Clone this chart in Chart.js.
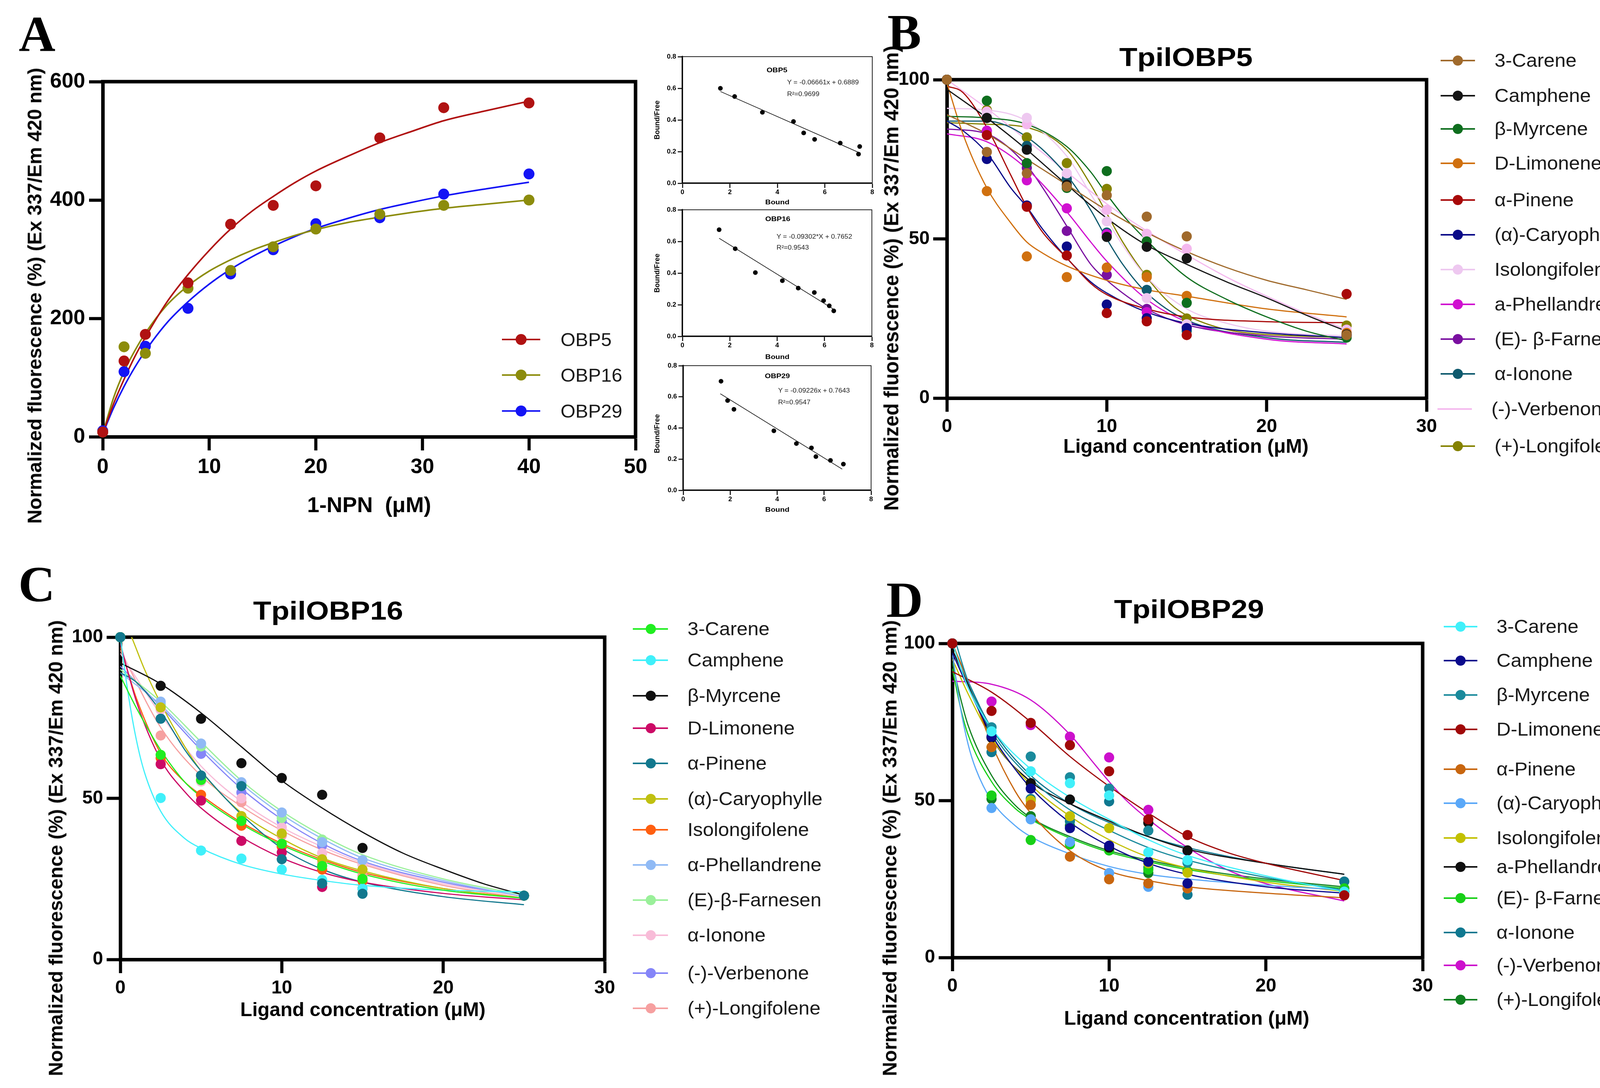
<!DOCTYPE html>
<html>
<head>
<meta charset="utf-8">
<script src="https://cdn.jsdelivr.net/npm/chart.js@4.4.1/dist/chart.umd.min.js"></script>
<style>
html,body{margin:0;padding:0;background:#fff;}
body{width:4251px;height:2785px;position:relative;overflow:hidden;font-family:"Liberation Sans",Arial,Helvetica,sans-serif;}
.box{position:absolute;}
.t{position:absolute;white-space:pre;line-height:1;color:#000;}
.sw{position:absolute;}
</style>
</head>
<body>
<script>
// ================= DATA =================
// Panel A: 1-NPN binding curves
const NPN_UM = [0, 2, 4, 8, 12, 16, 20, 26, 32, 40];
const OBP5_FL = [8, 128, 173, 260, 359, 391, 424, 505, 556, 564];
const OBP16_FL = [8, 152, 141, 251, 281, 321, 351, 376, 391, 400];
const OBP29_FL = [10, 110, 153, 217, 275, 316, 360, 370, 410, 444];
const NPN_FIT_UM = [0, 1, 2, 3, 4, 6, 8, 10, 12, 14, 16, 18, 20, 23, 26, 29, 32, 36, 40];
const OBP5_FIT = [5, 55, 97, 135, 168, 227, 274, 315, 351, 381, 406, 429, 449, 474, 497, 516, 534, 551, 567];
const OBP16_FIT = [5, 65, 110, 145, 175, 222, 255, 280, 299, 315, 328, 340, 350, 362, 371, 379, 386, 393, 400];
const OBP29_FIT = [5, 48, 85, 117, 145, 192, 228, 258, 283, 304, 322, 338, 352, 369, 384, 396, 407, 419, 430];
const A_NAMES = ['OBP5', 'OBP16', 'OBP29'];

// Panel A insets: Scatchard plots
const SC5_BOUND = [1.6, 2.2, 3.37, 4.68, 5.11, 5.57, 6.65, 7.42, 7.47];
const SC5_BF = [0.60, 0.548, 0.448, 0.39, 0.318, 0.277, 0.254, 0.184, 0.232];
const SC5_LINE = [[1.6, 0.58], [7.42, 0.195]];
const SC16_BOUND = [1.55, 2.23, 3.08, 4.22, 4.89, 5.57, 5.96, 6.2, 6.39];
const SC16_BF = [0.674, 0.554, 0.403, 0.352, 0.305, 0.277, 0.226, 0.193, 0.161];
const SC16_LINE = [[1.55, 0.62], [6.4, 0.17]];
const SC29_BOUND = [1.61, 1.89, 2.16, 3.86, 4.82, 5.46, 5.65, 6.27, 6.82];
const SC29_BF = [0.70, 0.576, 0.52, 0.382, 0.30, 0.272, 0.216, 0.192, 0.168];
const SC29_LINE = [[1.58, 0.62], [6.77, 0.136]];
const SC_TITLES = ['OBP5', 'OBP16', 'OBP29'];
const SC_EQS = ['Y = -0.06661x + 0.6889', 'Y = -0.09302*X + 0.7652', 'Y = -0.09226x + 0.7643'];
const SC_R2 = ['R²=0.9699', 'R²=0.9543', 'R²=0.9547'];

// Competitive binding: ligand concentrations (µM)
const LIGAND_UM = [0, 2.5, 5, 7.5, 10, 12.5, 15, 25];

// Panel B: TpilOBP5
const B_NAMES = ['3-Carene', 'Camphene', 'β-Myrcene', 'D-Limonene', 'α-Pinene', '(α)-Caryophyllene', 'Isolongifolene', 'a-Phellandrene', '(E)- β-Farnesene', 'α-Ionone', '(-)-Verbenone', '(+)-Longifolene'];
const B_PTS_CARENE = [100, 77.3, 70.6, 66.4, 63.7, 57, 50.8, 19.8];
const B_PTS_CAMPHENE = [100, 88, 78, 67, 50.6, 47.5, 43.9, 20];
const B_PTS_MYRCENE = [100, 93.4, 73.8, 66, 71.3, 49.2, 29.9, 19];
const B_PTS_LIMONENE = [100, 65, 44.5, 38, 41, 38, 32.1, 20.5];
const B_PTS_PINENE = [100, 82.6, 60.1, 44.8, 26.7, 24.1, 19.8, 32.7];
const B_PTS_CARYOPH = [100, 75.1, 60.5, 47.6, 29.4, 25.1, 22, 19.5];
const B_PTS_ISOLONG = [100, 89, 88, 70.6, 55.5, 31.4, 23.2, 21];
const B_PTS_PHELL = [100, 84, 68.4, 59.6, 51.5, 27, 22.5, 20];
const B_PTS_FARN = [100, 83.9, 72.3, 52.5, 38.7, 28, 22.5, 19.5];
const B_PTS_IONONE = [100, 88, 79.2, 68.8, 52, 34, 21.1, 20];
const B_PTS_VERB = [100, 90, 86, 70, 59.1, 51.6, 46.9, 21.5];
const B_PTS_LONGI = [100, 90.5, 81.9, 73.8, 65.7, 38.7, 25, 22.8];
const B_FIT_CARENE = [[0,89],[2.5,83],[5,75],[7.5,67],[10,59],[12.5,52],[15,46],[17.5,41],[20,37],[22.5,34],[25,31]];
const B_FIT_CAMPHENE = [[0,97],[2.5,88],[5,78],[7.5,67],[10,56.5],[12.5,48],[15,42],[17.5,36.5],[20,31.5],[22.5,26],[25,21]];
const B_FIT_MYRCENE = [[0,88.5],[2.5,88],[5,86],[7.5,79],[9,71],[10,64],[11,57.5],[12.5,49.5],[15,38],[17.5,31],[20,25.5],[22.5,21],[25,18]];
const B_FIT_LIMONENE = [[0,99],[1,83],[2.5,66],[4,55],[5,49],[6,45.5],[7.5,41.5],[10,37],[12.5,34],[15,32],[20,28],[25,25.5]];
const B_FIT_PINENE = [[0,98],[1,96],[2.5,85],[4,70],[5,60],[6,52],[7.5,44],[9,36],[10,32.5],[12.5,28],[15,25.5],[20,24],[25,23.7]];
const B_FIT_CARYOPH = [[0,87],[1,84],[2.5,77],[4,66],[5,60],[6,53],[7.5,44],[9,36.5],[10,33],[12.5,27],[15,23.5],[20,20.5],[25,19]];
const B_FIT_ISOLONG = [[0,91],[2.5,90.5],[5,87],[7.5,76],[9,64],[10,56],[11,48],[12.5,38],[15,28],[17.5,23.5],[20,21],[25,19.5]];
const B_FIT_PHELL = [[0,83],[2.5,80.5],[5,72],[7.5,58.5],[9,49],[10,43],[12.5,31],[15,24],[20,18.5],[25,17]];
const B_FIT_FARN = [[0,84.5],[2.5,83],[5,73],[6,66],[7.5,54],[9,42],[10,37],[12.5,28],[15,23],[20,19.5],[25,18.5]];
const B_FIT_IONONE = [[0,87],[2.5,87],[5,82],[7.5,70],[9,59],[10,50],[11,42],[12.5,33],[15,24.5],[20,19],[25,17.5]];
const B_FIT_VERB = [[0,100],[2.5,91],[5,81],[7.5,71],[10,61],[12.5,52.5],[15,45],[17.5,38],[20,32],[22.5,26.5],[25,21.5]];
const B_FIT_LONGI = [[0,86.5],[2.5,86],[5,85],[7.5,78],[9,67],[10,58],[11,49],[12.5,38],[14,29.5],[15,26],[17.5,21.5],[20,20],[25,19]];

// Panel C: TpilOBP16
const C_NAMES = ['3-Carene', 'Camphene', 'β-Myrcene', 'D-Limonene', 'α-Pinene', '(α)-Caryophylle', 'Isolongifolene', 'α-Phellandrene', '(E)-β-Farnesen', 'α-Ionone', '(-)-Verbenone', '(+)-Longifolene'];
const C_PTS_CARENE = [100, 63.5, 55.7, 43, 35.9, 29, 25, 19.8];
const C_PTS_CAMPHENE = [100, 50.1, 33.8, 31.3, 27.9, 24.7, 22, 19.8];
const C_PTS_MYRCENE = [100, 84.9, 74.7, 60.9, 56.3, 51.1, 34.6, 19.8];
const C_PTS_LIMONENE = [100, 60.6, 49.3, 36.8, 33.2, 22.5, 22, 19.8];
const C_PTS_PINENE = [100, 74.7, 57.1, 53.8, 31.1, 23.6, 20.4, 19.8];
const C_PTS_CARYOPH = [100, 78.2, 57, 44.5, 39.1, 31.1, 27.9, 19.8];
const C_PTS_ISOLONG = [100, 62.5, 51.1, 41.5, 35, 27.9, 24.3, 19.8];
const C_PTS_PHELL = [100, 80, 67, 55, 45.6, 36.4, 30.8, 19.8];
const C_PTS_FARN = [100, 79.3, 66.1, 54.7, 43.9, 37.2, 30.8, 19.8];
const C_PTS_IONONE = [100, 77.5, 55.2, 50, 41, 33, 29.5, 19.8];
const C_PTS_VERB = [100, 79, 63.8, 51.8, 42.9, 35.4, 29.5, 19.8];
const C_PTS_LONGI = [100, 69.5, 55.5, 48.8, 38.5, 30, 26, 19.8];
const C_FIT_CARENE = [[0,88],[1,78],[2.5,65],[4,55],[5,50.5],[7.5,42],[10,35.5],[12.5,30.5],[15,26.5],[20,21.5],[25,19]];
const C_FIT_CAMPHENE = [[0,100],[0.5,82],[1,68],[1.5,58],[2.5,46],[4,37.5],[5,34.5],[7.5,29.5],[10,26.5],[12.5,24.5],[15,23],[20,21.5],[25,21]];
const C_FIT_MYRCENE = [[0,92],[2.5,85.5],[5,76.5],[7.5,66],[10,55.5],[12.5,47],[15,39.5],[17.5,33],[20,28],[22.5,23.5],[25,20]];
const C_FIT_LIMONENE = [[0,98],[1,80],[2.5,62],[4,52],[5,47],[7.5,38],[10,31.5],[12.5,27],[15,24],[20,20.5],[25,18.5]];
const C_FIT_PINENE = [[0,89],[1,86],[2.5,77],[4,65],[5,58.5],[7.5,45],[10,34.5],[12.5,28],[15,24],[20,19.5],[25,17]];
const C_FIT_CARYOPH = [[0,108],[0.7,100],[1.5,90],[2.5,79.5],[4,66],[5,58.5],[7.5,45.5],[10,37.5],[12.5,31.5],[15,27.5],[20,22],[25,19]];
const C_FIT_ISOLONG = [[0,97],[1,81],[2.5,64],[4,55],[5,51],[7.5,42.5],[10,36],[12.5,31],[15,27],[20,22],[25,19]];
const C_FIT_PHELL = [[0,89],[2.5,79],[5,66],[7.5,54.5],[10,45],[12.5,37.5],[15,31.5],[20,24.5],[25,19.5]];
const C_FIT_FARN = [[0,90],[2.5,80],[5,67.5],[7.5,55.5],[10,46],[12.5,38.5],[15,32.5],[20,25],[25,20]];
const C_FIT_IONONE = [[0,95],[2.5,76],[5,60],[7.5,49],[10,41],[12.5,35],[15,30],[20,23.5],[25,19.5]];
const C_FIT_VERB = [[0,91],[2.5,78.5],[5,65],[7.5,53],[10,43.5],[12.5,36],[15,30.5],[20,24],[25,19.5]];
const C_FIT_LONGI = [[0,96],[2.5,72],[5,57],[7.5,47.5],[10,40],[12.5,34],[15,29.5],[20,23],[25,19]];

// Panel D: TpilOBP29
const D_NAMES = ['3-Carene', 'Camphene', 'β-Myrcene', 'D-Limonene', 'α-Pinene', '(α)-Caryophyllene', 'Isolongifolene', 'a-Phellandrene', '(E)- β-Farnesene', 'α-Ionone', '(-)-Verbenone', '(+)-Longifolene'];
const D_PTS_CARENE = [100, 72, 59.3, 55.5, 51.6, 33.5, 31, 21];
const D_PTS_CAMPHENE = [100, 70.3, 53.8, 41.2, 35.6, 30.5, 23.6, 21];
const D_PTS_MYRCENE = [100, 73.3, 64, 57.4, 53.8, 40.4, 30.2, 21];
const D_PTS_LIMONENE = [100, 78.5, 74.7, 67.6, 59.3, 44, 39, 19.8];
const D_PTS_PINENE = [100, 67, 48.6, 32.1, 24.9, 23.6, 22, 20];
const D_PTS_CARYOPH = [100, 47.6, 44, 36.8, 26.9, 22.5, 22, 20.5];
const D_PTS_ISOLONG = [100, 67, 50, 45, 41.2, 30, 27, 21];
const D_PTS_PHELL = [100, 70, 55.5, 50.3, 35, 42.9, 34.1, 21];
const D_PTS_FARN = [100, 51.6, 37.4, 36, 34.1, 28, 27.5, 22];
const D_PTS_IONONE = [100, 65.4, 50.5, 43.4, 49.7, 28.6, 20, 24.2];
const D_PTS_VERB = [100, 81.5, 74, 70.3, 63.7, 47, 34, 22];
const D_PTS_LONGI = [100, 50.5, 45, 42, 34.1, 26.9, 27.5, 21];
const D_FIT_CARENE = [[0,100],[1,86],[2.5,73],[5,60],[7.5,51],[10,44],[12.5,37.5],[15,32.5],[20,26],[25,21]];
const D_FIT_CAMPHENE = [[0,97],[1,86],[2.5,71],[4,60],[5,54],[7.5,43],[10,35.5],[12.5,30],[15,26.5],[20,22.5],[25,20.5]];
const D_FIT_MYRCENE = [[0,104],[1,88],[2.5,72],[5,57],[7.5,47],[10,40.5],[12.5,35],[15,31],[20,25.5],[25,21.5]];
const D_FIT_LIMONENE = [[0,91],[2.5,84.5],[5,75],[7.5,64],[10,54.5],[12.5,46],[15,38.5],[17.5,33.5],[20,30],[25,24.5]];
const D_FIT_PINENE = [[0,100],[1,88],[2.5,68],[4,53],[5,46],[7.5,34],[10,27.5],[12.5,24.5],[15,22.5],[20,20.5],[25,19]];
const D_FIT_CARYOPH = [[0,97],[0.5,80],[1,68],[1.5,60],[2.5,50],[4,42],[5,38.5],[7.5,33],[10,29],[12.5,26.5],[15,25],[20,23],[25,21.5]];
const D_FIT_ISOLONG = [[0,95],[1,84],[2.5,70],[5,55],[7.5,45],[10,37.5],[12.5,32],[15,28.5],[20,24],[25,21]];
const D_FIT_PHELL = [[0,98],[1,87],[2.5,70],[5,56],[7.5,49],[10,43.5],[12.5,38.5],[15,34.5],[20,30],[25,26.5]];
const D_FIT_FARN = [[0,92],[0.5,80],[1,71],[2.5,56],[4,47.5],[5,44],[7.5,38],[10,33.5],[12.5,30.5],[15,28],[20,24.5],[25,22]];
const D_FIT_IONONE = [[0,100],[1,88],[2.5,73],[5,58],[7.5,49],[10,43],[12.5,38.5],[15,35],[20,30],[25,26.5]];
const D_FIT_VERB = [[0,88],[2.5,87],[5,82],[7.5,71],[9,62],[10,56],[11,50.5],[12.5,44],[15,35],[17.5,28],[20,23.5],[25,18]];
const D_FIT_LONGI = [[0,94],[0.5,83],[1,74],[2.5,58],[4,48.5],[5,44.5],[7.5,38.5],[10,34],[12.5,31],[15,28.5],[20,25],[25,22.5]];

// Axis tick settings
const A_X_MAX = 50, A_X_STEP = 10, A_Y_MAX = 600, A_Y_STEP = 200;
const L_X_MAX = 30, L_X_STEP = 10, L_Y_MAX = 100, L_Y_STEP = 50;

// ================= STYLES =================
const A_COLORS = ['#B01212', '#8C8C0C', '#1414F5'];
const B_COLORS = ['#A06A2C', '#151515', '#0E6E1E', '#D0700F', '#A80808', '#0A0A88', '#EEC8F0', '#D010D0', '#7A10A0', '#0F5A6E', '#F4B8EE', '#858200'];
const C_COLORS = ['#20EE20', '#40F0FA', '#101010', '#CC0A66', '#12788E', '#C0C010', '#FF5F10', '#90BAF5', '#9AF09A', '#F8BCD8', '#8585F8', '#F6A0A0'];
const D_COLORS = ['#40F0FA', '#0A0A8C', '#1A8A9C', '#A00808', '#C8660F', '#5AA8F8', '#C2C000', '#101010', '#18D018', '#0F7890', '#CC10CC', '#108020'];
// which series is drawn on top of the point stack in each panel
const B_TOP = 0, C_TOP = 4, D_TOP = 3;
const SANS = '"Liberation Sans", Arial, Helvetica, sans-serif';
const SERIF = '"Liberation Serif", "Times New Roman", serif';

// ================= BUILD =================
Chart.defaults.font.family = SANS;
Chart.defaults.color = '#000';
Chart.defaults.animation = false;

const framePlugin = {
  id: 'frame',
  beforeDatasetsDraw(chart, args, o) {
    const a = chart.chartArea, ctx = chart.ctx;
    ctx.save();
    ctx.strokeStyle = o.color || '#000';
    ctx.lineWidth = o.width || 1;
    ctx.lineCap = 'square';
    ctx.beginPath();
    ctx.moveTo(a.left, a.top);
    ctx.lineTo(a.right, a.top);
    ctx.lineTo(a.right, a.bottom);
    ctx.stroke();
    ctx.restore();
  }
};

function makeChart(box, pads, datasets, ax) {
  const wrap = document.createElement('div');
  wrap.className = 'box';
  const W = box.r - box.l + pads.l + pads.r, H = box.b - box.t + pads.t + pads.b;
  wrap.style.left = (box.l - pads.l) + 'px';
  wrap.style.top = (box.t - pads.t) + 'px';
  wrap.style.width = W + 'px';
  wrap.style.height = H + 'px';
  const cv = document.createElement('canvas');
  wrap.appendChild(cv);
  document.body.appendChild(wrap);
  const tickFont = { family: SANS, size: ax.fs, weight: 'bold' };
  return new Chart(cv, {
    type: 'scatter',
    data: { datasets },
    options: {
      responsive: true, maintainAspectRatio: false, devicePixelRatio: 1, animation: false,
      layout: { padding: { left: 0, top: pads.t, right: pads.r, bottom: 0 } },
      plugins: { legend: { display: false }, tooltip: { enabled: false }, frame: { width: ax.fw, color: ax.fc } },
      events: [],
      scales: {
        x: {
          type: 'linear', min: 0, max: ax.xMax,
          afterFit(s) { s.height = pads.b; },
          border: { display: true, width: ax.bw, color: '#000' },
          grid: { display: true, drawOnChartArea: false, drawTicks: true, tickLength: ax.tl, tickWidth: ax.tw, tickColor: '#000' },
          ticks: { stepSize: ax.xStep, font: tickFont, color: '#000', padding: ax.xPad, maxRotation: 0, autoSkip: false, callback: ax.xFmt || (v => String(v)) }
        },
        y: {
          type: 'linear', min: 0, max: ax.yMax,
          afterFit(s) { s.width = pads.l; },
          border: { display: true, width: ax.bw, color: '#000' },
          grid: { display: true, drawOnChartArea: false, drawTicks: true, tickLength: ax.tl, tickWidth: ax.tw, tickColor: '#000' },
          ticks: { stepSize: ax.yStep, font: tickFont, color: '#000', padding: ax.yPad, autoSkip: false, callback: ax.yFmt || (v => String(v)) }
        }
      }
    },
    plugins: [framePlugin]
  });
}

function pointsDs(label, xs, ys, color, r, order) {
  return { label, data: xs.map((x, j) => ({ x, y: ys[j] })), showLine: false, pointRadius: r, pointHoverRadius: r,
    backgroundColor: color, borderColor: color, pointBackgroundColor: color, pointBorderWidth: 0, borderWidth: 0, clip: false, order: order || 0 };
}
function fitDs(label, pairs, color, lw) {
  return { label: label + ' fit', data: pairs.map(p => ({ x: p[0], y: p[1] })), showLine: true, pointRadius: 0, pointHoverRadius: 0,
    borderColor: color, backgroundColor: color, borderWidth: lw, cubicInterpolationMode: 'monotone', fill: false, order: 1 };
}

function text(str, x, y, size, o) {
  o = o || {};
  const d = document.createElement('div');
  d.className = 't';
  d.textContent = str;
  d.style.fontSize = size + 'px';
  d.style.fontWeight = o.bold ? 'bold' : 'normal';
  d.style.fontFamily = o.serif ? SERIF : SANS;
  if (o.color) d.style.color = o.color;
  d.style.left = x + 'px';
  d.style.top = y + 'px';
  let tf;
  if (o.left) { tf = 'translate(0,-50%)'; d.style.transformOrigin = 'left center'; }
  else tf = 'translate(-50%,-50%)';
  if (o.rot) tf += ' rotate(-90deg)';
  if (o.sx) tf += ' scaleX(' + o.sx + ')';
  d.style.transform = tf;
  document.body.appendChild(d);
}

function legend(names, colors, ys, cfg) {
  names.forEach((n, i) => {
    const y = ys[i];
    const dx = (cfg.dx && cfg.dx[i]) || 0;
    const ln = document.createElement('div');
    ln.className = 'sw';
    ln.style.left = (cfg.x1 + dx) + 'px'; ln.style.top = (y - cfg.lw / 2) + 'px';
    ln.style.width = (cfg.x2 - cfg.x1) + 'px'; ln.style.height = cfg.lw + 'px';
    ln.style.background = colors[i];
    document.body.appendChild(ln);
    if (!cfg.noMarker || !cfg.noMarker[i]) {
      const c = document.createElement('div');
      c.className = 'sw';
      c.style.left = (cfg.mx + dx - cfg.r) + 'px'; c.style.top = (y - cfg.r) + 'px';
      c.style.width = (2 * cfg.r) + 'px'; c.style.height = (2 * cfg.r) + 'px';
      c.style.borderRadius = '50%'; c.style.background = colors[i];
      document.body.appendChild(c);
    }
    text(n, cfg.tx + dx, y, cfg.fs, { left: true, sx: cfg.sx, color: '#1a1a1a' });
  });
}

// ---------- Panel A main ----------
const mainPads = { l: 170, t: 45, r: 55, b: 140 };
const aDatasets = [
  pointsDs(A_NAMES[0], NPN_UM, OBP5_FL, A_COLORS[0], 14),
  pointsDs(A_NAMES[1], NPN_UM, OBP16_FL, A_COLORS[1], 14),
  pointsDs(A_NAMES[2], NPN_UM, OBP29_FL, A_COLORS[2], 14),
  fitDs(A_NAMES[0], NPN_FIT_UM.map((x, j) => [x, OBP5_FIT[j]]), A_COLORS[0], 4),
  fitDs(A_NAMES[1], NPN_FIT_UM.map((x, j) => [x, OBP16_FIT[j]]), A_COLORS[1], 4),
  fitDs(A_NAMES[2], NPN_FIT_UM.map((x, j) => [x, OBP29_FIT[j]]), A_COLORS[2], 4)
];
makeChart({ l: 263, t: 209, r: 1627, b: 1118 }, mainPads, aDatasets,
  { xMax: A_X_MAX, xStep: A_X_STEP, yMax: A_Y_MAX, yStep: A_Y_STEP, fs: 54, bw: 9, tw: 8, tl: 35, xPad: 11, yPad: 10, fw: 9, fc: '#000' });
text('A', 95, 86, 130, { serif: true, bold: true });
text('Normalized fluorescence (%) (Ex 337/Em 420 nm)', 89, 757, 50, { bold: true, rot: true });
text('1-NPN  (μM)', 945, 1292, 56, { bold: true });
legend(A_NAMES, A_COLORS, [869, 960, 1052], { x1: 1285, x2: 1383, mx: 1334, r: 14, lw: 4, tx: 1435, fs: 49, sx: 1.0 });

// ---------- Panel A insets ----------
const insetPads = { l: 70, t: 18, r: 22, b: 45 };
const insetAx = { xMax: 8, xStep: 2, yMax: 0.8, yStep: 0.2, fs: 17, bw: 3.5, tw: 2.5, tl: 12, xPad: 1, yPad: 4, fw: 2, fc: '#222',
  yFmt: v => Number(v).toFixed(1), xFmt: v => String(v) };
const insetBoxes = [
  { l: 1747, t: 145, r: 2233, b: 469 },
  { l: 1747, t: 537, r: 2232, b: 861 },
  { l: 1749, t: 936, r: 2230, b: 1255 }
];
const insetData = [
  [SC5_BOUND, SC5_BF, SC5_LINE],
  [SC16_BOUND, SC16_BF, SC16_LINE],
  [SC29_BOUND, SC29_BF, SC29_LINE]
];
const insetTitlePos = [[1989, 179], [1991, 560], [1990, 962]];
const insetEqPos = [[2015, 211, 241], [1988, 606, 634], [1992, 1000, 1030]];
const insetBoundY = [517, 913, 1304];
const insetBFY = [307, 699, 1110];
insetData.forEach((d, i) => {
  const ds = [
    pointsDs(SC_TITLES[i], d[0], d[1], '#000', 6),
    fitDs(SC_TITLES[i], d[2], '#000', 1.5)
  ];
  ds[1].cubicInterpolationMode = 'default';
  ds[1].tension = 0;
  makeChart(insetBoxes[i], insetPads, ds, insetAx);
  text(SC_TITLES[i], insetTitlePos[i][0], insetTitlePos[i][1], 17, { bold: true, sx: 1.15 });
  text(SC_EQS[i], insetEqPos[i][0], insetEqPos[i][1], 16, { left: true, sx: 1.1, color: '#222' });
  text(SC_R2[i], insetEqPos[i][0], insetEqPos[i][2], 16, { left: true, sx: 1.1, color: '#222' });
  text('Bound', 1990, insetBoundY[i], 17, { bold: true, sx: 1.15 });
  text('Bound/Free', 1682, insetBFY[i], 18, { bold: true, rot: true });
});

// ---------- Panels B, C, D ----------
function ligandDatasets(names, colors, pts, fits, r, lw, topIdx) {
  const ds = [];
  names.forEach((n, i) => { ds.push(pointsDs(n, LIGAND_UM, pts[i], colors[i], r, i === topIdx ? -1 : 0)); });
  names.forEach((n, i) => { ds.push(fitDs(n, fits[i], colors[i], lw)); });
  return ds;
}
const ligAx = { xMax: L_X_MAX, xStep: L_X_STEP, yMax: L_Y_MAX, yStep: L_Y_STEP, fs: 48, bw: 9, tw: 8, tl: 35, xPad: 10, yPad: 9, fw: 9, fc: '#000' };

const B_PTS = [B_PTS_CARENE, B_PTS_CAMPHENE, B_PTS_MYRCENE, B_PTS_LIMONENE, B_PTS_PINENE, B_PTS_CARYOPH, B_PTS_ISOLONG, B_PTS_PHELL, B_PTS_FARN, B_PTS_IONONE, B_PTS_VERB, B_PTS_LONGI];
const B_FITS = [B_FIT_CARENE, B_FIT_CAMPHENE, B_FIT_MYRCENE, B_FIT_LIMONENE, B_FIT_PINENE, B_FIT_CARYOPH, B_FIT_ISOLONG, B_FIT_PHELL, B_FIT_FARN, B_FIT_IONONE, B_FIT_VERB, B_FIT_LONGI];
makeChart({ l: 2424, t: 204, r: 3652, b: 1019 }, mainPads, ligandDatasets(B_NAMES, B_COLORS, B_PTS, B_FITS, 13, 3, B_TOP), ligAx);
text('B', 2315, 82, 130, { serif: true, bold: true });
text('TpilOBP5', 3036, 146, 66, { bold: true, sx: 1.15 });
text('Ligand concentration (μM)', 3036, 1142, 50, { bold: true });
text('Normalized fluorescence (%) (Ex 337/Em 420 nm)', 2282, 712, 51, { bold: true, rot: true });
legend(B_NAMES, B_COLORS, [154.7, 245.2, 330.1, 417.8, 511.8, 600.9, 690, 779, 868.2, 956.6, 1047, 1141.7],
  { x1: 3688, x2: 3776, mx: 3732, r: 13, lw: 4, tx: 3826, fs: 48, sx: 1.05,
    noMarker: [false, false, false, false, false, false, false, false, false, false, true, false],
    dx: [0, 0, 0, 0, 0, 0, 0, 0, 0, 0, -8, 0] });

const C_PTS = [C_PTS_CARENE, C_PTS_CAMPHENE, C_PTS_MYRCENE, C_PTS_LIMONENE, C_PTS_PINENE, C_PTS_CARYOPH, C_PTS_ISOLONG, C_PTS_PHELL, C_PTS_FARN, C_PTS_IONONE, C_PTS_VERB, C_PTS_LONGI];
const C_FITS = [C_FIT_CARENE, C_FIT_CAMPHENE, C_FIT_MYRCENE, C_FIT_LIMONENE, C_FIT_PINENE, C_FIT_CARYOPH, C_FIT_ISOLONG, C_FIT_PHELL, C_FIT_FARN, C_FIT_IONONE, C_FIT_VERB, C_FIT_LONGI];
makeChart({ l: 308, t: 1631, r: 1548, b: 2456 }, mainPads, ligandDatasets(C_NAMES, C_COLORS, C_PTS, C_FITS, 13, 3, C_TOP), ligAx);
text('C', 94, 1495, 130, { serif: true, bold: true });
text('TpilOBP16', 840, 1563, 66, { bold: true, sx: 1.15 });
text('Ligand concentration (μM)', 929, 2584, 50, { bold: true });
text('Normalized fluorescence (%) (Ex 337/Em 420 nm)', 143, 2171, 50, { bold: true, rot: true });
legend(C_NAMES, C_COLORS, [1610, 1690, 1781, 1863.6, 1954, 2045, 2123.6, 2213.6, 2304, 2393.6, 2491, 2581],
  { x1: 1620, x2: 1710, mx: 1666, r: 13, lw: 4, tx: 1760, fs: 48, sx: 1.05 });

const D_PTS = [D_PTS_CARENE, D_PTS_CAMPHENE, D_PTS_MYRCENE, D_PTS_LIMONENE, D_PTS_PINENE, D_PTS_CARYOPH, D_PTS_ISOLONG, D_PTS_PHELL, D_PTS_FARN, D_PTS_IONONE, D_PTS_VERB, D_PTS_LONGI];
const D_FITS = [D_FIT_CARENE, D_FIT_CAMPHENE, D_FIT_MYRCENE, D_FIT_LIMONENE, D_FIT_PINENE, D_FIT_CARYOPH, D_FIT_ISOLONG, D_FIT_PHELL, D_FIT_FARN, D_FIT_IONONE, D_FIT_VERB, D_FIT_LONGI];
makeChart({ l: 2438, t: 1647, r: 3642, b: 2451 }, mainPads, ligandDatasets(D_NAMES, D_COLORS, D_PTS, D_FITS, 13, 3, D_TOP), ligAx);
text('D', 2316, 1535, 130, { serif: true, bold: true });
text('TpilOBP29', 3044, 1559, 66, { bold: true, sx: 1.15 });
text('Ligand concentration (μM)', 3038, 2606, 50, { bold: true });
text('Normalized fluorescence (%) (Ex 337/Em 420 nm)', 2278, 2171, 50, { bold: true, rot: true });
legend(D_NAMES, D_COLORS, [1604, 1691, 1779, 1867, 1969, 2056, 2145, 2219, 2299, 2387, 2471, 2559],
  { x1: 3696, x2: 3782, mx: 3739, r: 13, lw: 4, tx: 3831, fs: 48, sx: 1.05 });
</script>
</body>
</html>
